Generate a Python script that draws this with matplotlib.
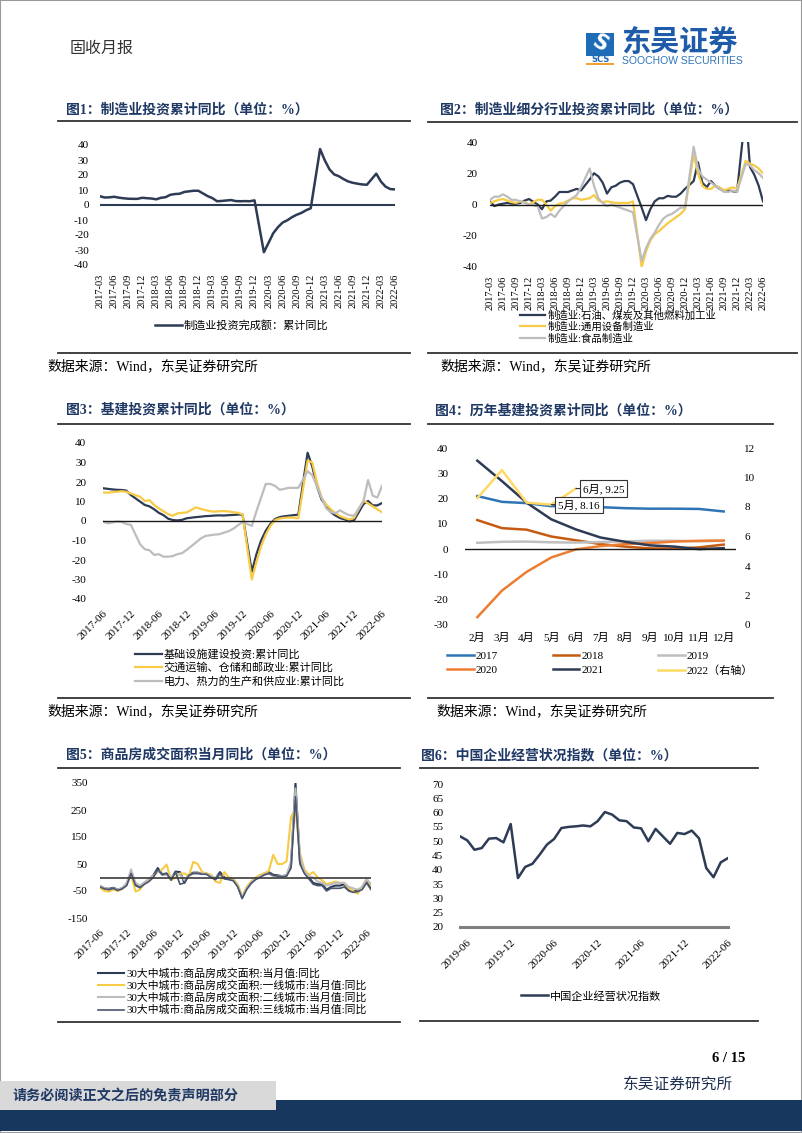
import numpy as np
import pandas as pd
import matplotlib
matplotlib.use('Agg')
import matplotlib.pyplot as plt
from matplotlib.patches import Rectangle
from matplotlib.lines import Line2D

plt.rcParams['font.family'] = ['Liberation Serif', 'Noto Sans CJK SC']
plt.rcParams['axes.unicode_minus'] = False

# --- data ---
# fig 1: manufacturing investment, cumulative yoy, 2017-03 .. 2022-06 (no January)
mfg_inv = [5.8, 5.0, 5.1, 5.5, 4.9, 4.5, 4.2, 4.1, 4.1, 4.8,
           4.3, 3.8, 4.8, 5.2, 6.8, 7.3, 7.5, 8.7, 9.1, 9.5, 9.5,
           5.9, 4.6, 2.5, 2.7, 3.0, 3.3, 2.6, 2.5, 2.6, 2.5, 3.1,
           -31.5, -25.2, -18.8, -14.8, -11.7, -10.2, -8.1, -6.5, -5.3, -3.5, -2.2,
           37.3, 29.8, 23.8, 20.4, 19.2, 17.3, 15.7, 14.8, 14.2, 13.7, 13.5,
           20.9, 15.6, 12.2, 10.6, 10.4]

# fig 2: sub-industries, 2017-03 .. 2022-06 (no January)
petro = [2, -1, 0, 0.5, 1, 0.5, 0.5, 1, 2.5, 3.5,
         0, -3, 2, 2.5, 5, 8, 8, 8, 9, 10, 9,
         16, 20, 18, 14, 7, 11, 12, 14, 15, 15, 13,
         -2, -10, -3, 2, 4, 4, 5.5, 5, 5, 7, 10,
         15, 27, 14, 11, 15, 12, 10, 9, 9, 8.5, 8,
         60, 24, 19, 12, 2]
general_eq = [1, 2, 3, 3.5, 2.5, 1.5, 1, 2, 1.5, 0,
              3, 3, 0, -4, -1, 0.5, 1, 2.5, 4, 4, 3,
              4, 6, 2.5, 1.5, 2, 1.5, 1, 1, 1, 1, 2,
              -40, -30, -23, -19, -17, -14.5, -12, -10, -8, -6, -3,
              32, 20, 12, 10, 10, 12, 11, 9, 10, 11, 10,
              28, 26, 25, 23, 20]
food = [3, 5, 5, 6.5, 5, 3, 3, 2, 1, 0,
        -1, -9, -8, -6, -8, -4, -1, 2, 4, 6, 11,
        23, 12, 4, 1, -1, 0, -1, -2, -3, -4, -5,
        -36, -28, -22, -18, -13, -9, -7, -6, -4, -2, -2,
        37, 23, 18, 16, 14, 12, 10, 8, 8, 9, 8,
        26, 25, 22, 20, 17]

# fig 3: infrastructure, 2017-06 .. 2022-06 (no January)
infra = [16.8, 16.5, 16.2, 16.0, 15.9, 15.6, 13.3,
         9.9, 8.2, 7.5, 6.0, 4.2, 3.0, 1.2, 0.5, 0.3, 0.6, 1.4,
         2.0, 2.2, 2.5, 2.6, 2.8, 2.9, 2.8, 3.0, 3.1, 3.3, 3.3,
         -26, -17, -10, -5, -1.5, 1, 2, 2.4, 2.7, 3, 3.2,
         35, 28, 18, 11, 7.8, 4.5, 2.8, 1.5, 0.8, -0.2, 0.4,
         8.6, 10.3, 8, 8, 9.2]
transport = [14.6, 14.5, 14.8, 15, 15.3, 15.0, 14.1,
             12.4, 10.2, 10.7, 8.2, 6.5, 5.0, 3.5, 2.7, 3.9, 4.2, 4.4,
             7.0, 6.2, 5.6, 5.0, 4.8, 5.0, 5.1, 4.9, 4.5, 4.2, 3.4,
             -30, -21, -13, -7, -2.5, 0.5, 1.3, 1.6, 1.8, 1.6, 1.4,
             31, 30, 20, 12, 8.5, 6, 4, 2.5, 1.5, 0.8, 1.6,
             10.5, 9, 7.5, 6, 4.5]
power = [-0.3, -1.2, -0.8, -0.3, -0.5, -1.5, -2.0,
         -12, -14.5, -15, -17.4, -17, -18.3, -18.3, -18, -17, -16.5, -14.8,
         -11, -9, -7.7, -7.3, -7, -6.8, -6, -5.2, -4, -2.2, -0.5,
         -2.5, 5, 12, 19, 19, 18, 16, 16.5, 17, 17, 17,
         25.5, 23.5, 18, 12, 6.5, 4.5, 4, 5.5, 4, 3, 2.7,
         10, 21, 13, 12, 18]

# fig 4: infrastructure cumulative yoy by year, Feb..Dec
months_cn = ['2月', '3月', '4月', '5月', '6月', '7月', '8月', '9月', '10月', '11月', '12月']
y2017 = [21.0, 18.7, 18.2, 17.0, 16.9, 16.6, 16.2, 16.0, 16.0, 15.9, 14.9]
y2018 = [11.5, 8.3, 7.7, 5.0, 3.5, 2.0, 1.0, 0.3, 0.2, 0.7, 1.8]
y2019 = [2.5, 2.9, 3.0, 2.7, 2.6, 2.8, 3.1, 3.3, 3.3, 3.1, 3.3]
y2020 = [-26.9, -16.4, -9.0, -3.3, -0.1, 1.2, 2.0, 2.4, 3.0, 3.3, 3.4]
y2021 = [35.0, 26.9, 18.4, 11.8, 7.8, 4.6, 2.9, 1.5, 1.0, 0.0, 0.4]
y2022 = [8.6, 10.5, 8.3, 8.16, 9.25]

# fig 5: 30 cities housing sales area, monthly yoy, 2017-06 .. 2022-07
house_all = [-33, -40, -42, -38, -45, -40, -25,
             20, -25, -35, -20, -8, 8, 35, 12, 15, -5, 22, 20,
             -20, 10, 18, 18, 14, 14, 5, -5, 20, 0, -5, -10,
             -30, -75, -40, -20, -5, 5, 15, 20, 10, 8, 5, 8,
             45, 350, 60, 20, 0, -20, -25, -25, -45, -35, -30, -30,
             -25, -45, -50, -50, -40, -10, -38]
house_t1 = [-38, -50, -52, -45, -50, -42, -20,
            10, -52, -45, -20, -10, 5, 20, 30, 48, -10, 0, 15,
            15, 5, 58, 50, 20, 15, 10, -15, -20, 20, 0, -5,
            -25, -70, -35, -15, 0, 10, 15, 25, 84, 50, 50, 60,
            225, 250, 90, 30, 10, 20, 0, -10, -25, -20, -15, -20,
            -20, -40, -50, -60, -35, -5, -30]
house_t2 = [-30, -38, -45, -40, -45, -38, -22,
            30, -20, -30, -18, -5, 5, 25, 10, 10, 0, 15, 10,
            -10, 5, 15, 15, 15, 12, 5, -5, 10, -5, -5, -10,
            -30, -75, -40, -20, -5, 5, 10, 15, 5, 5, 5, 10,
            60, 330, 80, 20, 5, 0, -15, -20, -30, -25, -20, -20,
            -20, -35, -40, -45, -35, -5, -25]
house_t3 = [-35, -42, -45, -40, -48, -42, -30,
            15, -30, -38, -25, -15, 0, 30, 10, 15, -10, 20, -25,
            -20, 8, 15, 15, 12, 12, 0, -8, 15, -5, -8, -12,
            -35, -78, -45, -22, -8, 0, 10, 15, 8, 5, 3, 5,
            35, 300, 50, 15, -5, -25, -30, -30, -50, -40, -40, -40,
            -35, -50, -55, -52, -45, -20, -45]

# fig 6: China enterprise business condition index, 2019-05 .. 2022-06
biz_index = [51.7, 50.3, 47.0, 47.6, 50.9, 51.1, 49.6, 56.0, 37.1, 41.0,
             42.1, 45.3, 48.8, 50.8, 54.6, 55.0, 55.2, 55.5, 55.2, 57.0,
             60.2, 59.3, 57.3, 57.0, 54.8, 54.5, 50.0, 54.3, 51.7, 49.1,
             52.9, 52.5, 53.7, 51.0, 40.6, 37.4, 42.6, 44.1]

NAVY = '#2E3B55'
YELLOW = '#F7CB45'
GRAY = '#BDBDBD'
TITLE_C = '#1F3864'
W, H = 802, 1133


def month_pos(start, end, skip_jan=True):
    pr = pd.period_range(start, end, freq='M')
    return [(p.year - 2017) * 12 + p.month - 1 for p in pr if not (skip_jan and p.month == 1)]


def tick_list(start, end, step):
    pr = pd.period_range(start, end, freq='M')[::step]
    return [(p.year - 2017) * 12 + p.month - 1 for p in pr], [p.strftime('%Y-%m') for p in pr]


fig = plt.figure(figsize=(W / 100, H / 100), dpi=100)


def box(x0, y0, x1, y1):
    ax = fig.add_axes([x0 / W, 1 - y1 / H, (x1 - x0) / W, (y1 - y0) / H])
    for s in ax.spines.values():
        s.set_visible(False)
    ax.tick_params(length=0, labelsize=8)
    ax.set_facecolor('none')
    return ax


def ftext(x, y, s, **kw):
    kw.setdefault('va', 'center')
    return fig.text(x / W, 1 - y / H, s, **kw)


def hrule(x0, x1, y, lw=1.3, color='#333333'):
    fig.add_artist(Line2D([x0 / W, x1 / W], [1 - y / H] * 2, lw=lw, color=color))


def legend_at(ax, handles, x, y, loc='upper left', **kw):
    opts = dict(frameon=False, fontsize=8, handlelength=2.4, handletextpad=0.2,
                borderpad=0, borderaxespad=0, labelspacing=0.1)
    opts.update(kw)
    ax.legend(handles=handles, loc=loc, bbox_to_anchor=(x / W, 1 - y / H),
              bbox_transform=fig.transFigure, **opts)


# page frame, header, footer
fig.add_artist(Rectangle((0, 0), 1, 1, transform=fig.transFigure, fill=False,
                         ec='#999999', lw=1.5))
ftext(70, 49, '固收月报', fontsize=11.5, color='#333333')
fig.add_artist(Rectangle((586 / W, 1 - 56 / H), 28 / W, 23 / H, transform=fig.transFigure,
                         fc='#1E6BB8', ec='none'))
ftext(600, 44, 'S', fontsize=15, color='white', fontweight='bold', ha='center',
      family='DejaVu Sans', rotation=-30)
ftext(600, 60, 'SCS', fontsize=6, color='#1E6BB8', fontweight='bold', ha='center',
      family='DejaVu Sans')
fig.add_artist(Rectangle((586 / W, 1 - 65 / H), 28 / W, 1.5 / H, transform=fig.transFigure,
                         fc='#F0A030', ec='none'))
ftext(621, 43, '东吴证券', fontsize=21, color='#1E5BA8', fontweight='bold')
ftext(622, 61, 'SOOCHOW SECURITIES', fontsize=7.5, color='#2E75B6', family='Liberation Sans')

ftext(745, 1058, '6 / 15', ha='right', fontsize=10.5, fontweight='bold')
ftext(733, 1085, '东吴证券研究所', ha='right', fontsize=11.3, color='#1F2F4F')
fig.add_artist(Rectangle((0, 1 - 1131 / H), 1, 31 / H, transform=fig.transFigure,
                         fc='#17375E', ec='none', zorder=1))
fig.add_artist(Rectangle((0, 1 - 1110 / H), 276 / W, 29 / H, transform=fig.transFigure,
                         fc='#D9D9D9', ec='none', zorder=2))
disc = ftext(12, 1096, '请务必阅读正文之后的免责声明部分', fontsize=12, color=TITLE_C,
             fontweight='bold', zorder=3)
# the disclaimer should span about 225 px, like in the page
fig.canvas.draw()
disc.set_fontsize(12 * 225 / disc.get_window_extent().width)

# section titles, rules, sources
titles = [(66, 110, '图1：制造业投资累计同比（单位：%）'),
          (440, 110, '图2：制造业细分行业投资累计同比（单位：%）'),
          (66, 410, '图3：基建投资累计同比（单位：%）'),
          (435, 411, '图4：历年基建投资累计同比（单位：%）'),
          (66, 755, '图5：商品房成交面积当月同比（单位：%）'),
          (421, 755, '图6：中国企业经营状况指数（单位：%）')]
for x, y, s in titles:
    ftext(x, y, s, fontsize=10, color=TITLE_C, fontweight='bold')
for x0, x1, y in [(58, 410, 121), (428, 797, 122), (58, 410, 353), (428, 797, 353),
                  (58, 410, 424), (428, 773, 424), (58, 410, 698), (428, 773, 698),
                  (58, 400, 768), (420, 758, 768), (58, 400, 1022), (420, 758, 1021)]:
    hrule(x0, x1, y)
for x, y in [(47, 366), (440, 366), (47, 711), (436, 711)]:
    ftext(x, y, '数据来源：Wind，东吴证券研究所', fontsize=10)

# --- fig 1 ---
ax1 = box(100, 145, 395, 265)
x1 = month_pos('2017-03', '2022-06')
l1, = ax1.plot(x1, mfg_inv, color=NAVY, lw=1.8, label='制造业投资完成额：累计同比')
ax1.axhline(0, color=NAVY, lw=1.5)
ax1.set_ylim(-40, 40)
ax1.set_yticks(range(-40, 41, 10))
ax1.set_xlim(x1[0], x1[-1])
t, lab = tick_list('2017-03', '2022-06', 3)
ax1.set_xticks(t, lab, rotation=90, fontsize=7.5)
ax1.tick_params(axis='x', pad=6)
ax1.tick_params(axis='y', pad=8)
legend_at(ax1, [l1], 155, 325, loc='center left')

# --- fig 2 ---
ax2 = box(490, 142, 763, 267)
x2 = month_pos('2017-03', '2022-06')
h2 = [ax2.plot(x2, petro, color=NAVY, lw=1.6, label='制造业:石油、煤炭及其他燃料加工业')[0],
      ax2.plot(x2, general_eq, color=YELLOW, lw=1.6, label='制造业:通用设备制造业')[0],
      ax2.plot(x2, food, color=GRAY, lw=1.6, label='制造业:食品制造业')[0]]
ax2.axhline(0, color='#1A1A1A', lw=1.0)
ax2.set_ylim(-40, 40)
ax2.set_yticks([-40, -20, 0, 20, 40])
ax2.set_xlim(x2[0], x2[-1])
t, lab = tick_list('2017-03', '2022-06', 3)
ax2.set_xticks(t, lab, rotation=90, fontsize=7.5)
ax2.tick_params(axis='x', pad=6)
ax2.tick_params(axis='y', pad=9)
legend_at(ax2, h2, 520, 310, labelspacing=0.12, fontsize=7.5)

# --- fig 3 ---
ax3 = box(103, 443, 382, 599)
x3 = month_pos('2017-06', '2022-06')
h3 = [ax3.plot(x3, infra, color=NAVY, lw=1.6, label='基础设施建设投资:累计同比')[0],
      ax3.plot(x3, transport, color=YELLOW, lw=1.6, label='交通运输、仓储和邮政业:累计同比')[0],
      ax3.plot(x3, power, color=GRAY, lw=1.6, label='电力、热力的生产和供应业:累计同比')[0]]
ax3.axhline(0, color='#1A1A1A', lw=1.0)
ax3.set_ylim(-40, 40)
ax3.set_yticks(range(-40, 41, 10))
ax3.set_xlim(x3[0], x3[-1])
t, lab = tick_list('2017-06', '2022-06', 6)
ax3.set_xticks(t, lab, rotation=45, ha='right', rotation_mode='anchor', fontsize=8)
ax3.tick_params(axis='x', pad=7)
ax3.tick_params(axis='y', pad=12)
legend_at(ax3, h3, 135, 649, labelspacing=0.25)

# --- fig 4 ---
ax4 = box(465, 448, 736, 625)
cats = np.arange(len(months_cn))
c4 = {'2017': '#2E75B6', '2018': '#C55A11', '2019': '#BFBFBF',
      '2020': '#ED7D31', '2021': NAVY, '2022': '#FFD966'}
h4 = {}
for name, vals in [('2017', y2017), ('2018', y2018), ('2019', y2019),
                   ('2020', y2020), ('2021', y2021)]:
    h4[name], = ax4.plot(cats[:len(vals)], vals, color=c4[name], lw=1.8, label=name)
ax4.axhline(0, color='#1A1A1A', lw=1.0)
ax4.set_ylim(-30, 40)
ax4.set_yticks(range(-30, 41, 10))
ax4.set_xlim(-0.5, len(cats) - 0.5)
ax4.set_xticks(cats, months_cn, fontsize=8)
ax4.tick_params(axis='x', pad=6)
ax4.tick_params(axis='y', pad=12)
ax4r = ax4.twinx()
for s in ax4r.spines.values():
    s.set_visible(False)
ax4r.tick_params(length=0, labelsize=8, pad=6)
h4['2022'], = ax4r.plot(cats[:len(y2022)], y2022, color=c4['2022'], lw=1.8, label='2022（右轴）')
ax4r.set_ylim(0, 12)
ax4r.set_yticks(range(0, 13, 2))
bb = dict(boxstyle='square,pad=0.25', fc='white', ec='#333333', lw=0.8)
for i in (3, 4):
    ax4r.annotate(f'{months_cn[i]}, {y2022[i]:.2f}', xy=(cats[i], y2022[i]),
                  xytext=(5, 0), textcoords='offset points', ha='left', va='center',
                  fontsize=8, bbox=bb,
                  arrowprops=dict(arrowstyle='-', color='#333333', lw=0.8,
                                  shrinkA=0, shrinkB=0))
order = ['2017', '2020', '2018', '2021', '2019', '2022']
legend_at(ax4r, [h4[k] for k in order], 447, 651, ncol=3, columnspacing=4.9,
          labelspacing=0.38)

# --- fig 5 ---
ax5 = box(100, 783, 371, 918)
x5 = month_pos('2017-06', '2022-07', skip_jan=False)
h5 = [ax5.plot(x5, house_all, color=NAVY, lw=1.5, label='30大中城市:商品房成交面积:当月值:同比')[0],
      ax5.plot(x5, house_t1, color=YELLOW, lw=1.5, label='30大中城市:商品房成交面积:一线城市:当月值:同比')[0],
      ax5.plot(x5, house_t2, color=GRAY, lw=1.5, label='30大中城市:商品房成交面积:二线城市:当月值:同比')[0],
      ax5.plot(x5, house_t3, color='#4A5670', lw=1.2, label='30大中城市:商品房成交面积:三线城市:当月值:同比')[0]]
ax5.axhline(0, color='#3A3A3A', lw=1.2)
ax5.set_ylim(-150, 350)
ax5.set_yticks(range(-150, 351, 100))
ax5.set_xlim(x5[0], x5[-1])
t, lab = tick_list('2017-06', '2022-06', 6)
ax5.set_xticks(t, lab, rotation=45, ha='right', rotation_mode='anchor', fontsize=8)
ax5.tick_params(axis='x', pad=7)
ax5.tick_params(axis='y', pad=9)
legend_at(ax5, h5, 98, 968, labelspacing=0.14, fontsize=7.8)

# --- fig 6 ---
ax6 = box(460, 784, 728, 927)
x6 = month_pos('2019-05', '2022-06', skip_jan=False)
l6, = ax6.plot(x6, biz_index, color=NAVY, lw=1.8, label='中国企业经营状况指数')
ax6.axhline(20, color='#808080', lw=2.2, clip_on=False)
ax6.set_ylim(20, 70)
ax6.set_yticks(range(20, 71, 5))
ax6.set_xlim(x6[0], x6[-1])
t, lab = tick_list('2019-06', '2022-06', 6)
ax6.set_xticks(t, lab, rotation=45, ha='right', rotation_mode='anchor', fontsize=8)
ax6.tick_params(axis='x', pad=8)
ax6.tick_params(axis='y', pad=12)
legend_at(ax6, [l6], 521, 996, loc='center left')

fig.savefig('out.png', dpi=100)
